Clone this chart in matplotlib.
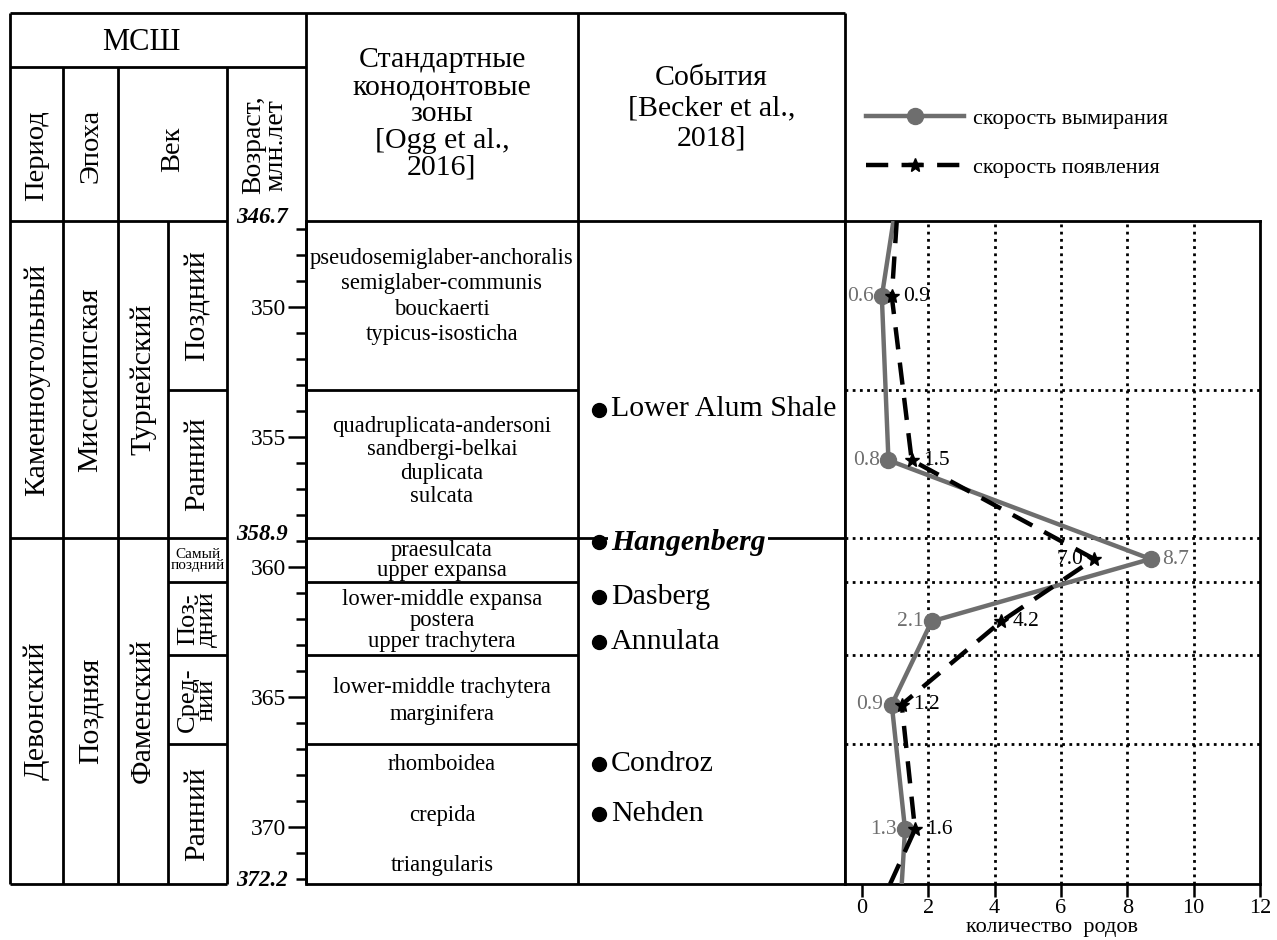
import matplotlib.pyplot as plt
from matplotlib.ticker import FixedLocator

plt.rcParams["font.family"] = ["Liberation Serif", "DejaVu Serif"]

# age scale (Ma)
age_top = 346.7
age_bottom = 372.2
age_major = [350, 355, 360, 365, 370]
age_minor = [a for a in range(347, 373) if a not in age_major]
bold_ages = [346.7, 358.9, 372.2]

# chronostratigraphic units
periods = ["Каменноугольный", "Девонский"]
epochs = ["Миссисипская", "Поздняя"]
stages = ["Турнейский", "Фаменский"]
system_bounds = [346.7, 358.9, 372.2]
substages = ["Поздний", "Ранний", "Самый\nпоздний", "Поз-\nдний", "Сред-\nний", "Ранний"]
substage_bounds = [346.7, 353.2, 358.9, 360.6, 363.4, 366.8, 372.2]

# conodont zones (text blocks and the age they are written at)
zone_texts = [
    "pseudosemiglaber-anchoralis\nsemiglaber-communis\nbouckaerti\ntypicus-isosticha",
    "quadruplicata-andersoni\nsandbergi-belkai\nduplicata\nsulcata",
    "praesulcata\nupper expansa",
    "lower-middle expansa\npostera\nupper trachytera",
    "lower-middle trachytera\nmarginifera",
    "rhomboidea",
    "crepida",
    "triangularis",
]
zone_text_ages = [349.6, 355.95, 359.76, 362.05, 365.15, 367.6, 369.55, 371.5]
zone_linespacing = [1.27, 1.13, 0.9, 1.0, 1.4, 1, 1, 1]

# events [Becker et al., 2018]
events = ["Lower Alum Shale", "Hangenberg", "Dasberg", "Annulata", "Condroz", "Nehden"]
event_ages = [353.95, 359.05, 361.15, 362.9, 367.6, 369.5]

# rates (number of genera)
rate_ages = [349.6, 355.9, 359.7, 362.1, 365.3, 370.1]
extinction = [0.6, 0.8, 8.7, 2.1, 0.9, 1.3]
origination = [0.9, 1.5, 7.0, 4.2, 1.2, 1.6]
# where the curves leave the frame at the top and bottom
extinction_ends = [0.95, 1.2]
origination_ends = [1.05, 0.85]

W, H = 1277, 940
PX_PER_MA = 26.0


def age_at(py):
    """figure pixel row -> age on the column scale"""
    return age_top + (py - 221) / PX_PER_MA


fig = plt.figure(figsize=(W / 100, H / 100), dpi=100)
ax = fig.add_axes([0, 0, 1, 1])
ax.set_xlim(0, W)
ax.set_ylim(age_at(H), age_at(0))
for s in ["top", "right", "bottom"]:
    ax.spines[s].set_visible(False)
ax.spines["left"].set_position(("data", 306))
ax.spines["left"].set_bounds(age_top, age_bottom)
ax.spines["left"].set_linewidth(2)
ax.set_xticks([])
ax.yaxis.set_major_locator(FixedLocator(age_major))
ax.yaxis.set_minor_locator(FixedLocator(age_minor))
ax.set_yticklabels([str(a) for a in age_major])
ax.tick_params(axis="y", which="major", direction="out", length=13, width=1.8,
               labelsize=17, pad=1)
ax.tick_params(axis="y", which="minor", direction="out", length=7, width=1.8)

lw = 2
xl, xper, xep, xst, xage, xzone, xev, xplot = 10, 63, 118, 168, 227, 306, 578, 845
y_top = age_at(13)
y_sub = age_at(67)

# frame of the table
ax.hlines(y_top, xl, xplot, color="k", lw=lw)
ax.hlines(y_sub, xl, xzone, color="k", lw=lw)
ax.vlines([xl, xzone, xev, xplot], y_top, age_bottom, color="k", lw=lw)
ax.vlines([xper, xep, xage], y_sub, age_bottom, color="k", lw=lw)
ax.vlines(xst, age_top, age_bottom, color="k", lw=lw)
for b in system_bounds:
    ax.hlines(b, xl, xage, color="k", lw=lw)
    ax.hlines(b, xzone, xplot, color="k", lw=lw)
for b in substage_bounds[1:-1]:
    if b in system_bounds:
        continue
    ax.hlines(b, xst, xage, color="k", lw=lw)
    ax.hlines(b, xzone, xev, color="k", lw=lw)

# header
ax.text(141, age_at(43), "МСШ", ha="center", va="center", fontsize=22)
ax.text((xl + xper) / 2, age_at(156), "Период", rotation=90, ha="center", va="center", fontsize=20.5)
ax.text((xper + xep) / 2, age_at(146), "Эпоха", rotation=90, ha="center", va="center", fontsize=20.5)
ax.text((xep + xage) / 2, age_at(149), "Век", rotation=90, ha="center", va="center", fontsize=20.5)
ax.text((xage + xzone) / 2 - 2, age_at(145), "Возраст,\nмлн.лет", rotation=90, ha="center",
        va="center", fontsize=20, linespacing=0.85)
ax.text((xzone + xev) / 2, age_at(114), "Стандартные\nконодонтовые\nзоны\n[Ogg et al.,\n2016]",
        ha="center", va="center", fontsize=21.5, linespacing=1.04)
ax.text((xev + xplot) / 2, age_at(108), "События\n[Becker et al.,\n2018]",
        ha="center", va="center", fontsize=21.5, linespacing=1.22)

# period / epoch / stage names
for i in range(2):
    mid = (system_bounds[i] + system_bounds[i + 1]) / 2
    ax.text((xl + xper) / 2, mid, periods[i], rotation=90, ha="center", va="center", fontsize=21.5)
    ax.text((xper + xep) / 2, mid, epochs[i], rotation=90, ha="center", va="center", fontsize=21.5)
    ax.text((xep + xst) / 2, mid, stages[i], rotation=90, ha="center", va="center", fontsize=21.5)

for i, name in enumerate(substages):
    mid = (substage_bounds[i] + substage_bounds[i + 1]) / 2
    if name.startswith("Самый"):
        ax.text((xst + xage) / 2, mid, name, ha="center", va="center", fontsize=11, linespacing=0.8)
    elif "\n" in name:
        ax.text((xst + xage) / 2, mid, name, rotation=90, ha="center", va="center",
                fontsize=19, linespacing=0.8)
    else:
        ax.text((xst + xage) / 2, mid, name, rotation=90, ha="center", va="center", fontsize=21.5)

# bold age labels
for a in bold_ages:
    ax.text(288, a - 0.15, f"{a}", ha="right", va="center", fontsize=16.5,
            fontweight="bold", style="italic")

# conodont zones
for t, a, ls in zip(zone_texts, zone_text_ages, zone_linespacing):
    ax.text((xzone + xev) / 2, a, t, ha="center", va="center", fontsize=16.3, linespacing=ls)

# events
ax.plot([599] * len(event_ages), event_ages, "o", color="k", ms=10, zorder=5)
for name, a in zip(events, event_ages):
    if name == "Hangenberg":
        ax.text(611, a, name, ha="left", va="center", fontsize=21.5, fontweight="bold",
                style="italic", bbox=dict(facecolor="white", edgecolor="none", pad=2), zorder=4)
    else:
        ax.text(611, a, name, ha="left", va="center", fontsize=21.5, zorder=4)

# rate plot
axp = fig.add_axes([xplot / W, 1 - 884 / H, (1260 - xplot) / W, 663 / H])
axp.set_xlim(-0.51, 12)
axp.set_ylim(age_bottom, age_top)
for s in axp.spines.values():
    s.set_linewidth(lw)
axp.set_yticks([])
axp.set_xticks(range(0, 13, 2))
axp.tick_params(axis="x", direction="out", length=9, width=1.8, labelsize=16, pad=2)
axp.set_xlabel("количество  родов", fontsize=16, labelpad=0)
for gx in range(2, 12, 2):
    axp.axvline(gx, color="k", lw=2, ls=(0, (1, 1.6)), zorder=1)
for b in substage_bounds[1:-1]:
    axp.axhline(b, color="k", lw=2, ls=(0, (1, 1.6)), zorder=1)

line_ages = [age_top] + rate_ages + [age_bottom]
gray = "#6e6e6e"
ext_line, = axp.plot([extinction_ends[0]] + extinction + [extinction_ends[1]], line_ages,
                     color=gray, lw=3.2, marker="o", ms=11.5, markevery=slice(1, -1),
                     label="скорость вымирания", zorder=3)
orig_line, = axp.plot([origination_ends[0]] + origination + [origination_ends[1]], line_ages,
                      color="k", lw=3.2, ls=(0, (5, 3)), marker="*", ms=10,
                      markevery=slice(1, -1), label="скорость появления", zorder=4)

imax = extinction.index(max(extinction))
for i, (a, v) in enumerate(zip(rate_ages, extinction)):
    if i == imax:
        axp.annotate(f"{v}", (v, a), xytext=(8, 0), textcoords="offset points",
                     ha="left", va="center", fontsize=15.5, color=gray)
    else:
        axp.annotate(f"{v}", (v, a), xytext=(-6, 0), textcoords="offset points",
                     ha="right", va="center", fontsize=15.5, color=gray)
imax = origination.index(max(origination))
for i, (a, v) in enumerate(zip(rate_ages, origination)):
    if i == imax:
        axp.annotate(f"{v}", (v, a), xytext=(-8, 0), textcoords="offset points",
                     ha="right", va="center", fontsize=15.5, color="k")
    else:
        axp.annotate(f"{v}", (v, a), xytext=(8, 0), textcoords="offset points",
                     ha="left", va="center", fontsize=15.5, color="k")

fig.legend(handles=[ext_line, orig_line], loc="upper left",
           bbox_to_anchor=(846 / W, 1 - 88 / H), frameon=False, fontsize=16,
           handlelength=4.4, handletextpad=0.4, labelspacing=1.3, numpoints=1)

fig.savefig("out.png", dpi=100)
